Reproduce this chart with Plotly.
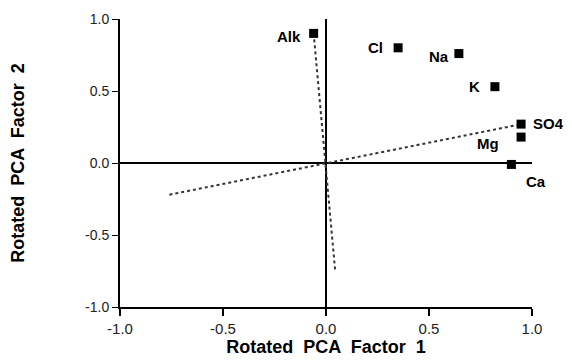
import plotly.graph_objects as go

variables = ["Alk", "Cl", "Na", "K", "SO4", "Mg", "Ca"]
factor1 = [-0.06, 0.35, 0.645, 0.82, 0.947, 0.947, 0.90]
factor2 = [0.90, 0.80, 0.76, 0.53, 0.27, 0.18, -0.01]

# label placement (pixel offsets from each marker)
label_anchor = ["right", "right", "right", "right", "left", "right", "left"]
label_dx = [-11, -13, -8, -13, 10, -20, 13]
label_dy = [-3, 0, -3, 0, 1, -6, -17]

axis1_x = [-0.06, 0.044]
axis1_y = [0.90, -0.74]
axis2_x = [-0.76, 0.95]
axis2_y = [-0.22, 0.27]

tickvals = [-1.0, -0.5, 0.0, 0.5, 1.0]
ticktext = ["-1.0", "-0.5", "0.0", "0.5", "1.0"]

fig = go.Figure()
fig.add_trace(go.Scatter(x=[-1, 1.0], y=[0, 0], mode="lines",
                         line=dict(color="black", width=2), showlegend=False, hoverinfo="skip"))
fig.add_trace(go.Scatter(x=[0, 0], y=[-1, 1.02], mode="lines",
                         line=dict(color="black", width=2), showlegend=False, hoverinfo="skip",
                         cliponaxis=False))
fig.add_trace(go.Scatter(x=axis1_x, y=axis1_y, mode="lines",
                         line=dict(color="#333", width=2, dash="dot"), showlegend=False))
fig.add_trace(go.Scatter(x=axis2_x, y=axis2_y, mode="lines",
                         line=dict(color="#333", width=2, dash="dot"), showlegend=False))
fig.add_trace(go.Scatter(x=factor1, y=factor2, mode="markers",
                         marker=dict(symbol="square", size=9, color="black"),
                         showlegend=False, cliponaxis=False))

for name, fx, fy, anc, dx, dy in zip(variables, factor1, factor2, label_anchor, label_dx, label_dy):
    fig.add_annotation(x=fx, y=fy, text="<b>%s</b>" % name, showarrow=False,
                       xanchor=anc, yanchor="middle", xshift=dx, yshift=dy,
                       font=dict(family="Liberation Sans, Arial", size=15, color="black"))

fig.update_layout(
    width=572, height=361,
    margin=dict(l=120, r=40, t=19, b=54),
    plot_bgcolor="white", paper_bgcolor="white",
    font=dict(family="Liberation Sans, Arial", size=13, color="black"),
)
fig.update_xaxes(range=[-1, 1], tickvals=tickvals, ticktext=ticktext, automargin=False,
                 showgrid=False, zeroline=False, showline=True, linecolor="black", linewidth=2,
                 ticks="outside", ticklen=7, tickwidth=2, tickcolor="black",
                 tickfont=dict(size=15, color="#222"),
                 title=dict(text="<b>Rotated  PCA  Factor  1</b>", standoff=4,
                            font=dict(size=18)))
fig.update_yaxes(range=[-1, 1], tickvals=tickvals, ticktext=ticktext, automargin=False,
                 showgrid=False, zeroline=False, showline=True, linecolor="black", linewidth=2,
                 ticks="outside", ticklen=6, tickwidth=1, tickcolor="black",
                 tickfont=dict(size=14, color="#222"),
                 title=dict(text="<b>Rotated  PCA  Factor  2</b>", standoff=56,
                            font=dict(size=18)))

fig.write_html("out.html")
